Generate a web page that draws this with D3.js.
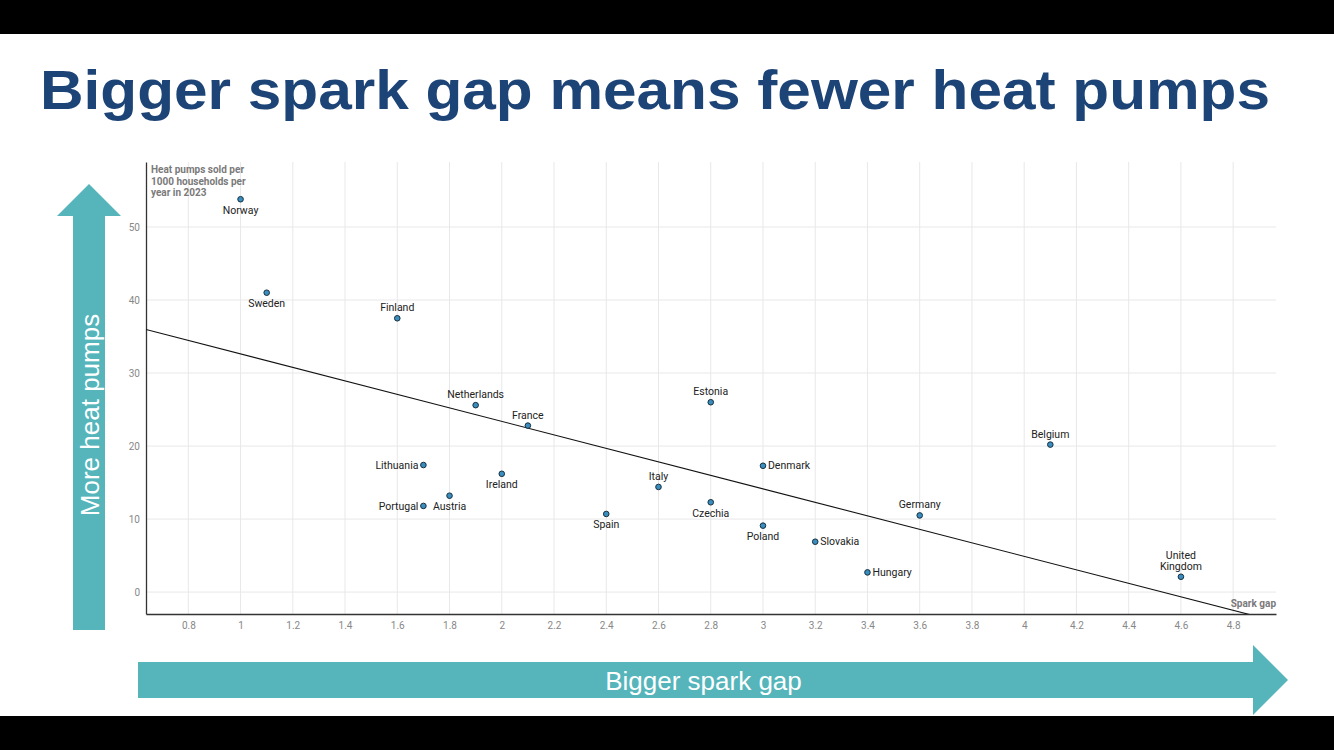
<!DOCTYPE html>
<html>
<head>
<meta charset="utf-8">
<script src="https://cdn.jsdelivr.net/npm/d3@7/dist/d3.min.js"></script>
<style>
  html, body { margin: 0; padding: 0; background: #000; }
  svg { display: block; }
</style>
</head>
<body>
<svg id="chart" width="1334" height="750"></svg>
<script>
// ---- data ----
const countries = ["Norway","Sweden","Finland","Netherlands","France","Lithuania","Ireland","Austria","Portugal","Spain","Italy","Estonia","Czechia","Denmark","Poland","Slovakia","Hungary","Germany","Belgium","United Kingdom"];
const sparkGap   = [1.0, 1.1, 1.6, 1.9, 2.1, 1.7, 2.0, 1.8, 1.7, 2.4, 2.6, 2.8, 2.8, 3.0, 3.0, 3.2, 3.4, 3.6, 4.1, 4.6];
const heatPumps  = [53.8, 41.0, 37.5, 25.6, 22.8, 17.4, 16.2, 13.2, 11.8, 10.7, 14.4, 26.0, 12.3, 17.3, 9.1, 6.9, 2.7, 10.5, 20.2, 2.1];
const labelSide  = ["below","below","above","above","above","left","below","below","left","below","above","above","below","right","below","right","right","above","above","above"];
const xTicks = [0.8,1,1.2,1.4,1.6,1.8,2,2.2,2.4,2.6,2.8,3,3.2,3.4,3.6,3.8,4,4.2,4.4,4.6,4.8];
const yTicks = [0,10,20,30,40,50];
const titleText = "Bigger spark gap means fewer heat pumps";
const yAxisTitle = ["Heat pumps sold per","1000 households per","year in 2023"];
const xAxisTitle = "Spark gap";
const upArrowText = "More heat pumps";
const rightArrowText = "Bigger spark gap";

// ---- layout ----
const svg = d3.select("#chart");
const W = 1334, H = 750;
const plot = {left: 146, right: 1276, top: 162, bottom: 614};
const teal = "#55B5BB";

svg.append("rect").attr("x",0).attr("y",0).attr("width",W).attr("height",H).attr("fill","#000");
svg.append("rect").attr("x",0).attr("y",34).attr("width",W).attr("height",682).attr("fill","#fff");

// title
svg.append("text").attr("x",40).attr("y",109)
  .attr("font-family","'Liberation Sans', Arial, sans-serif").attr("font-weight","bold")
  .attr("font-size",56).attr("fill","#1D4477")
  .attr("textLength",1230).attr("lengthAdjust","spacingAndGlyphs")
  .text(titleText);

const x = d3.scaleLinear().domain([0.638, 4.964]).range([plot.left, plot.right]);
const y = d3.scaleLinear().domain([-3.0, 58.9]).range([plot.bottom, plot.top]);

// grid
const g = svg.append("g");
g.selectAll(".vg").data(xTicks).join("line")
  .attr("x1",d=>x(d)).attr("x2",d=>x(d)).attr("y1",plot.top).attr("y2",plot.bottom)
  .attr("stroke","#e8e8e8").attr("stroke-width",1);
g.selectAll(".hg").data(yTicks).join("line")
  .attr("x1",plot.left).attr("x2",plot.right).attr("y1",d=>y(d)).attr("y2",d=>y(d))
  .attr("stroke","#e8e8e8").attr("stroke-width",1);

// axes
const xAxis = d3.axisBottom(x).tickValues(xTicks).tickSize(0).tickPadding(8)
  .tickFormat(d => String(+d.toFixed(1)));
const xg = svg.append("g").attr("transform",`translate(0,${plot.bottom})`).call(xAxis);
xg.select(".domain").attr("stroke","#333").attr("stroke-width",1.3);
xg.selectAll("text").attr("font-family","Roboto, sans-serif").attr("font-size",10).attr("fill","#888");

const yAxis = d3.axisLeft(y).tickValues(yTicks).tickSize(0).tickPadding(6);
const yg = svg.append("g").attr("transform",`translate(${plot.left},0)`).call(yAxis);
yg.select(".domain").attr("stroke","#333").attr("stroke-width",1.3);
yg.selectAll("text").attr("font-family","Roboto, sans-serif").attr("font-size",10).attr("fill","#888");

// axis titles
const yt = svg.append("text").attr("font-family","Roboto, sans-serif").attr("font-weight","bold")
  .attr("font-size",10).attr("fill","#7a7a7a");
yAxisTitle.forEach((t,i)=> yt.append("tspan").attr("x",151).attr("y",173 + i*11.5).text(t));
svg.append("text").attr("x",plot.right).attr("y",607).attr("text-anchor","end")
  .attr("font-family","Roboto, sans-serif").attr("font-weight","bold")
  .attr("font-size",10).attr("fill","#7a7a7a").text(xAxisTitle);

// regression line (OLS from data)
const n = sparkGap.length;
const mx = d3.mean(sparkGap), my = d3.mean(heatPumps);
let sxy = 0, sxx = 0;
for (let i=0;i<n;i++){ sxy += (sparkGap[i]-mx)*(heatPumps[i]-my); sxx += (sparkGap[i]-mx)**2; }
const slope = sxy/sxx, intercept = my - slope*mx;
svg.append("clipPath").attr("id","plotclip").append("rect")
  .attr("x",plot.left).attr("y",plot.top).attr("width",plot.right-plot.left).attr("height",plot.bottom-plot.top);
const xd = x.domain();
svg.append("line").attr("clip-path","url(#plotclip)")
  .attr("x1",x(xd[0])).attr("y1",y(intercept+slope*xd[0]))
  .attr("x2",x(xd[1])).attr("y2",y(intercept+slope*xd[1]))
  .attr("stroke","#111").attr("stroke-width",1.1);

// points
const pts = countries.map((c,i)=>({name:c, x:sparkGap[i], y:heatPumps[i], side:labelSide[i]}));
svg.selectAll(".pt").data(pts).join("circle")
  .attr("cx",d=>x(d.x)).attr("cy",d=>y(d.y)).attr("r",2.8)
  .attr("fill","#3A8DBF").attr("stroke","#17303f").attr("stroke-width",1);

// labels
const lbl = svg.selectAll(".lbl").data(pts).join("text")
  .attr("font-family","Roboto, sans-serif").attr("font-size",10.5).attr("fill","#222")
  .attr("text-anchor",d=> d.side==="left" ? "end" : d.side==="right" ? "start" : "middle");
lbl.each(function(d){
  const cx = x(d.x), cy = y(d.y);
  const t = d3.select(this);
  let lines = d.name === "United Kingdom" ? ["United","Kingdom"] : [d.name];
  let lx = cx, ly;
  if (d.side==="above") ly = cy - 7 - (lines.length-1)*11;
  else if (d.side==="below") ly = cy + 14.5;
  else if (d.side==="left") { lx = cx - 5; ly = cy + 3.7; }
  else { lx = cx + 5; ly = cy + 3.7; }
  lines.forEach((s,i)=> t.append("tspan").attr("x",lx).attr("y",ly + i*11).text(s));
});

// vertical arrow
svg.append("path")
  .attr("d", `M73,630 L73,216 L57,216 L89,184 L121,216 L105,216 L105,630 Z`)
  .attr("fill",teal);
svg.append("text").attr("transform","translate(98.5,415) rotate(-90)")
  .attr("text-anchor","middle").attr("font-family","'Liberation Sans', Arial, sans-serif")
  .attr("font-size",26).attr("fill","#fff").text(upArrowText);

// horizontal arrow
svg.append("path")
  .attr("d", `M138,662 L1253,662 L1253,645 L1288,680 L1253,715 L1253,698 L138,698 Z`)
  .attr("fill",teal);
svg.append("text").attr("x",703.5).attr("y",690)
  .attr("text-anchor","middle").attr("font-family","'Liberation Sans', Arial, sans-serif")
  .attr("font-size",26).attr("fill","#fff").text(rightArrowText);
</script>
</body>
</html>
